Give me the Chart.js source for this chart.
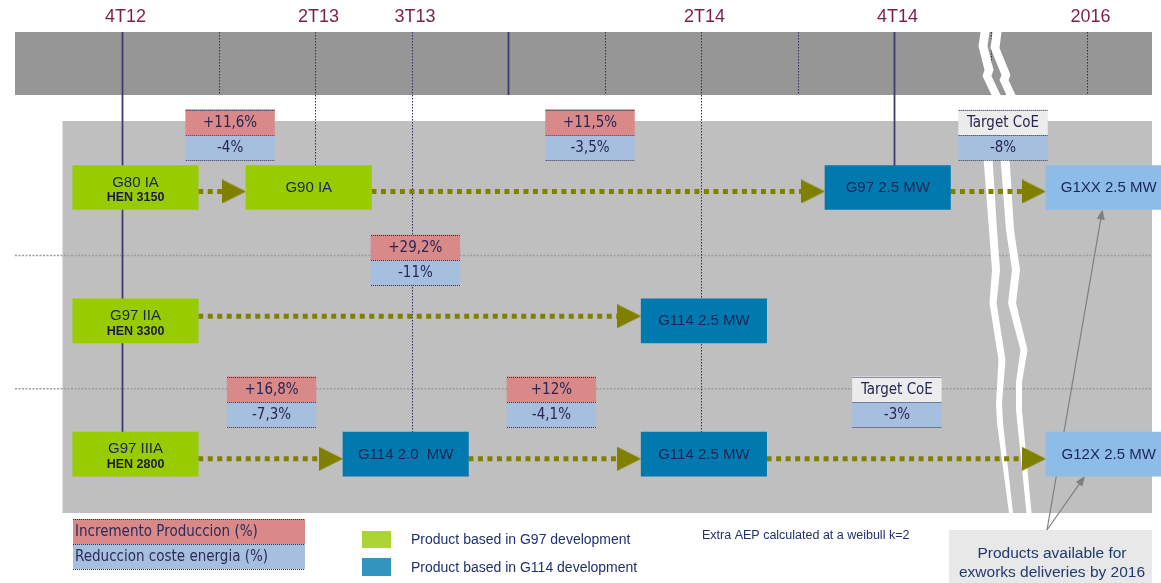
<!DOCTYPE html>
<html>
<head>
<meta charset="utf-8">
<script src="https://cdn.jsdelivr.net/npm/chart.js@4.4.1/dist/chart.umd.min.js"></script>
<style>
  html, body { margin: 0; padding: 0; background: #fff; }
  #wrap { width: 1161px; height: 583px; position: relative; }
</style>
</head>
<body>
<div id="wrap"><canvas id="roadmap"></canvas></div>
<script>
// time axis in quarters, 0 = 4T12 ; rows = product lines (0 top)
const quarterTicks = [0, 1, 2, 3, 4, 5, 6, 7, 8, 9, 10];
const quarterNames = ["4T12", "1T13", "2T13", "3T13", "4T13", "1T14", "2T14", "3T14", "4T14", "", "2016"];
const shownQuarters = ["4T12", "2T13", "3T13", "2T14", "4T14", "2016"];
const yearEnds = ["4T12", "4T13", "4T14"];

// products
const productNames = ["G80 IA", "G90 IA", "G97 2.5 MW", "G1XX 2.5 MW", "G97 IIA", "G114 2.5 MW", "G97 IIIA", "G114 2.0  MW", "G114 2.5 MW", "G12X 2.5 MW"];
const productCodes = ["HEN 3150", "", "", "", "HEN 3300", "", "HEN 2800", "", "", ""];
const productRow = [0, 0, 0, 0, 1, 1, 2, 2, 2, 2];
const productStart = [-0.51, 1.285, 7.285, 9.575, -0.51, 5.38, -0.51, 2.29, 5.38, 9.575];
const productFamily = ["G97", "G97", "G114", "next", "G97", "G114", "G97", "G114", "G114", "next"];

// evolution arrows (from product -> to product)
const links = [[0, 1], [1, 2], [2, 3], [4, 5], [6, 7], [7, 8], [8, 9]];

// improvement tags
const tagQuarter = [1.12, 4.85, 9.13, 3.04, 1.55, 4.45, 8.03];
const tagRow = [0, 0, 0, 1, 2, 2, 2];
const tagUpper = ["+11,6%", "+11,5%", "Target CoE", "+29,2%", "+16,8%", "+12%", "Target CoE"];
const tagLower = ["-4%", "-3,5%", "-8%", "-11%", "-7,3%", "-4,1%", "-3%"];

// milestones whose line runs down into the rows
const milestoneDepth = { "4T12": 2, "2T13": 0, "3T13": 2, "2T14": 2, "4T14": 0 };

// ---- layout ----
const W = 1161, H = 583;
const PX_Q = 96.5, Q0 = 122;        // pixels per quarter, x of 4T12
const PX_ROW = 133.3, ROW0 = 187.5;  // pixels per row, y of row 0
const BOX_Q = 1.3, BOX_PX = 44;
const TAG_W = 0.92, TAG_PX = 25;
const TAG_LIFT = { 0: -0.49, 1: -0.55, 2: -0.485 };
const LINK_DROP = { 0: 0.03, 1: -0.035, 2: 0.035 };
const HEAD_Q = 12 / PX_Q;
const familyColor = { G97: "#99cc00", G114: "#0079ae", next: "#8dbce9" };
const SANS = '"Liberation Sans", Arial, sans-serif';
const COND = '"DejaVu Sans Condensed", "DejaVu Sans", sans-serif';

const BAND = { left: 15, right: 1152, top: 32, bottom: 95 };
const AREA = { left: 62.5, right: 1152, top: 121, bottom: 513 };
const NOTE_TARGETS = [{ product: 3, along: 0.45 }, { product: 9, along: 0.31 }];

function arrowHead() {
  const c = document.createElement("canvas");
  c.width = 24; c.height = 24;
  const g = c.getContext("2d");
  g.fillStyle = "#808000";
  g.beginPath(); g.moveTo(0, 0); g.lineTo(24, 12); g.lineTo(0, 24); g.closePath(); g.fill();
  return c;
}
const head = arrowHead();

const qOf = name => quarterTicks[quarterNames.indexOf(name)];

function dotted(ctx, x1, y1, x2, y2, color, width, dash) {
  ctx.save();
  ctx.strokeStyle = color; ctx.lineWidth = width;
  ctx.setLineDash(dash || []);
  ctx.beginPath(); ctx.moveTo(x1, y1); ctx.lineTo(x2, y2); ctx.stroke();
  ctx.restore();
}

function strokeBreak(ctx, base, pts) {
  ctx.beginPath();
  pts.forEach(([dx, y, w], i) => i ? ctx.lineTo(base + dx - w / 2, y) : ctx.moveTo(base + dx - w / 2, y));
  for (let i = pts.length - 1; i >= 0; i--) ctx.lineTo(base + pts[i][0] + pts[i][2] / 2, pts[i][1]);
  ctx.closePath(); ctx.fill();
}

function arrowLine(ctx, x1, y1, x2, y2) {
  const a = Math.atan2(y2 - y1, x2 - x1);
  ctx.beginPath(); ctx.moveTo(x1, y1); ctx.lineTo(x2 - 8 * Math.cos(a), y2 - 8 * Math.sin(a)); ctx.stroke();
  ctx.beginPath();
  ctx.moveTo(x2, y2);
  ctx.lineTo(x2 - 10 * Math.cos(a) + 4 * Math.sin(a), y2 - 10 * Math.sin(a) - 4 * Math.cos(a));
  ctx.lineTo(x2 - 10 * Math.cos(a) - 4 * Math.sin(a), y2 - 10 * Math.sin(a) + 4 * Math.cos(a));
  ctx.closePath(); ctx.fill();
}

const backdrop = {
  id: "backdrop",
  beforeDatasetsDraw(chart) {
    const { ctx, scales: { x, y } } = chart;
    ctx.save();
    ctx.fillStyle = "#969696";
    ctx.fillRect(BAND.left, BAND.top, BAND.right - BAND.left, BAND.bottom - BAND.top);
    ctx.fillStyle = "#bfbfbf";
    ctx.fillRect(AREA.left, AREA.top, AREA.right - AREA.left, AREA.bottom - AREA.top);

    // row separators
    [0.51, 1.51].forEach(r => dotted(ctx, BAND.left, y.getPixelForValue(r), AREA.right, y.getPixelForValue(r), "#9c9c9c", 1.5, [2, 1.5]));

    // quarter lines
    quarterTicks.forEach((q, i) => {
      const name = quarterNames[i];
      const px = Math.round(x.getPixelForValue(q)) + 0.5;
      const depth = milestoneDepth[name];
      const bottom = depth === undefined ? BAND.bottom : y.getPixelForValue(depth);
      if (yearEnds.includes(name)) dotted(ctx, px, BAND.top, px, bottom, "#3b3c70", 1.8);
      else dotted(ctx, px, BAND.top, px, bottom, "#2e2f66", 1, [1.5, 1.5]);
    });

    // axis break
    const base = x.getPixelForValue(9);
    ctx.fillStyle = "#ffffff";
    strokeBreak(ctx, base, [[-5.5, 32, 9], [-7.5, 46, 9], [-1.5, 70, 9], [-3.5, 76, 9], [5.5, 95, 9]]);
    strokeBreak(ctx, base, [[6.5, 32, 9], [4.5, 48, 9], [15.5, 75, 9], [13.5, 80, 9], [20.5, 95, 9]]);
    strokeBreak(ctx, base, [[-4.5, 121, 9], [-2.5, 158, 9], [2.5, 230, 8], [5.5, 270, 8], [2.5, 303, 7], [11.5, 360, 7], [8.5, 403, 6], [9.5, 423, 6], [20.5, 513, 4]]);
    strokeBreak(ctx, base, [[12.5, 121, 9], [14.5, 158, 9], [19.5, 230, 8], [25.5, 270, 8], [21.5, 303, 8], [33.5, 350, 7], [28.5, 382, 6], [28.5, 410, 6], [38.5, 513, 5]]);

    // note box + pointers
    ctx.fillStyle = "#e8e8e8";
    ctx.fillRect(949, 530, 203, 53);
    ctx.strokeStyle = "#7f7f7f"; ctx.fillStyle = "#7f7f7f"; ctx.lineWidth = 1.2;
    NOTE_TARGETS.forEach(t => {
      const tx = x.getPixelForValue(productStart[t.product] + BOX_Q * t.along);
      const ty = y.getPixelForValue(productRow[t.product]) + BOX_PX / 2;
      arrowLine(ctx, 1047, 530, tx, ty);
    });
    ctx.restore();
  }
};

const labels = {
  id: "labels",
  afterDatasetsDraw(chart) {
    const { ctx, scales: { x, y } } = chart;
    ctx.save();
    ctx.textAlign = "center"; ctx.textBaseline = "middle";

    // quarter labels
    ctx.font = "18px " + SANS; ctx.fillStyle = "#7a1f4c";
    shownQuarters.forEach(n => ctx.fillText(n, x.getPixelForValue(qOf(n)) + 3.5, 17));

    // product labels
    productNames.forEach((n, i) => {
      const cx = x.getPixelForValue(productStart[i] + BOX_Q / 2);
      const cy = y.getPixelForValue(productRow[i]);
      ctx.fillStyle = "#1c2656";
      if (productCodes[i]) {
        ctx.font = "15px " + SANS; ctx.fillText(n, cx, cy - 5);
        ctx.font = "bold 12.5px " + SANS; ctx.fillStyle = "#1a1a3c"; ctx.fillText(productCodes[i], cx, cy + 10.5);
      } else {
        ctx.font = "15px " + SANS; ctx.fillText(n, cx, cy + 0.5);
      }
    });

    // tag borders and text
    tagQuarter.forEach((q, i) => {
      const x1 = x.getPixelForValue(q - TAG_W / 2), x2 = x.getPixelForValue(q + TAG_W / 2);
      const top = y.getPixelForValue(tagRow[i] + TAG_LIFT[tagRow[i]]) - TAG_PX / 2;
      [top, top + TAG_PX, top + 2 * TAG_PX].forEach(yy => dotted(ctx, x1, Math.round(yy) + 0.5, x2, Math.round(yy) + 0.5, "#2c2c5c", 1, [1, 1]));
      ctx.font = "15px " + COND; ctx.fillStyle = "#262654";
      ctx.fillText(tagUpper[i], (x1 + x2) / 2, top + TAG_PX / 2 + 0.5);
      ctx.fillText(tagLower[i], (x1 + x2) / 2, top + TAG_PX * 1.5 + 0.5);
    });

    // legend: tags
    ctx.fillStyle = "#d98a88"; ctx.fillRect(73, 519, 232, 25);
    ctx.fillStyle = "#a7bfdf"; ctx.fillRect(73, 544, 232, 25);
    [519.5, 544.5, 569.5].forEach(yy => dotted(ctx, 73, yy, 305, yy, "#2c2c5c", 1, [1, 1]));
    ctx.textAlign = "left"; ctx.font = "15px " + COND; ctx.fillStyle = "#2b2b58";
    ctx.fillText("Incremento Produccion (%)", 75, 532);
    ctx.fillText("Reduccion coste energia (%)", 75, 557);

    // legend: families
    ctx.fillStyle = "#acd433"; ctx.fillRect(362, 531, 29, 17);
    ctx.fillStyle = "#3394c0"; ctx.fillRect(362, 558, 29, 18);
    ctx.font = "14px " + SANS; ctx.fillStyle = "#1f3070";
    ctx.fillText("Product based in G97 development", 411, 540);
    ctx.fillText("Product based in G114 development", 411, 568);
    ctx.font = "12.5px " + SANS;
    ctx.fillText("Extra AEP calculated at a weibull k=2", 702, 536);

    ctx.textAlign = "center"; ctx.font = "15.5px " + SANS; ctx.fillStyle = "#1f3a70";
    ctx.fillText("Products available for", 1052, 554);
    ctx.fillText("exworks deliveries by 2016", 1052, 573);
    ctx.restore();
  }
};

const datasets = [
  {
    label: "products", order: 0, grouped: false, barThickness: BOX_PX, borderWidth: 0,
    data: productNames.map((n, i) => ({ x: [productStart[i], productStart[i] + BOX_Q], y: productRow[i] })),
    backgroundColor: productFamily.map(f => familyColor[f])
  },
  {
    label: "upper", order: 0, grouped: false, barThickness: TAG_PX, borderWidth: 0,
    data: tagQuarter.map((q, i) => ({ x: [q - TAG_W / 2, q + TAG_W / 2], y: tagRow[i] + TAG_LIFT[tagRow[i]] })),
    backgroundColor: tagUpper.map(t => t.startsWith("+") ? "#d98a88" : "#ececec")
  },
  {
    label: "lower", order: 0, grouped: false, barThickness: TAG_PX, borderWidth: 0,
    data: tagQuarter.map((q, i) => ({ x: [q - TAG_W / 2, q + TAG_W / 2], y: tagRow[i] + TAG_LIFT[tagRow[i]] + TAG_PX / PX_ROW })),
    backgroundColor: "#a7bfdf"
  }
].concat(links.map(([a, b]) => ({
  type: "line", indexAxis: "x", order: 1,
  data: [
    { x: productStart[a] + BOX_Q, y: productRow[a] + LINK_DROP[productRow[a]] },
    { x: productStart[b] - HEAD_Q, y: productRow[b] + LINK_DROP[productRow[b]] }
  ],
  borderColor: "#808000", borderWidth: 5, borderDash: [5, 4.5], borderCapStyle: "butt",
  pointRadius: [0, 1], pointHoverRadius: 0, pointStyle: head, fill: false, tension: 0
})));

new Chart(document.getElementById("roadmap"), {
  type: "bar",
  data: { datasets },
  options: {
    indexAxis: "y",
    responsive: true, maintainAspectRatio: false, animation: false, events: [],
    layout: { padding: 0, autoPadding: false },
    plugins: { legend: { display: false }, tooltip: { enabled: false } },
    scales: {
      x: { type: "linear", display: false, offset: false, min: -Q0 / PX_Q, max: (W - Q0) / PX_Q },
      y: { type: "linear", display: false, offset: false, reverse: true, min: -ROW0 / PX_ROW, max: (H - ROW0) / PX_ROW }
    }
  },
  plugins: [backdrop, labels]
});
</script>
</body>
</html>
